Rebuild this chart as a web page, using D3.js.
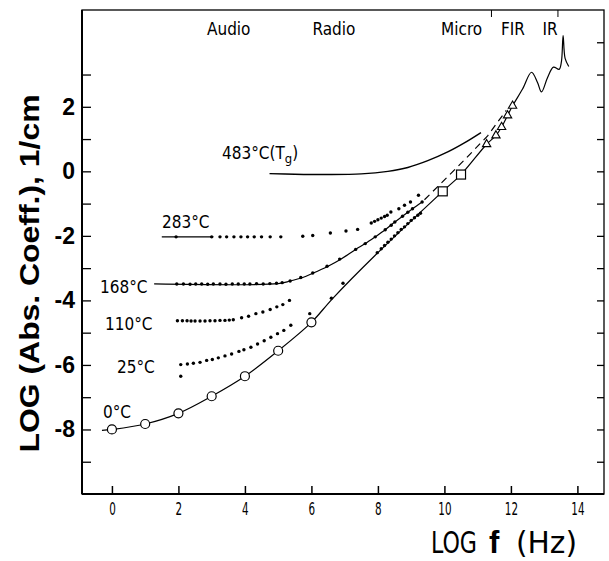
<!DOCTYPE html>
<html><head><meta charset="utf-8">
<script src="https://cdn.jsdelivr.net/npm/d3@7/dist/d3.min.js"></script>
<style>
body{margin:0;background:#fff;}
svg{display:block;}
.lab{font-family:"DejaVu Sans Condensed","DejaVu Sans",sans-serif;fill:#000;}
</style></head>
<body><svg id="c" width="609" height="561"></svg>
<script>
// ---------- data ----------
const xTickValues = [0,2,4,6,8,10,12,14];
const yTickValues = [2,0,-2,-4,-6,-8];
const yMinorLeft = [3,1,-1,-3,-5,-7,-9];
const yMinorRight = [4,3,1,-1,-3,-5,-7,-9];
const topTicks = [11.4,13.4];
const bandNames = ["Audio","Radio","Micro","FIR","IR"];
const bandX = [2.86,6.03,9.9,11.7,12.95];

// 0°C solid curve (through circles, squares, triangles, IR structure)
const line0X = [-0.3,0,1,2,3,4,5,6,6.63,7.92,9.95,10.5,11.27,11.55,11.72,11.9,12.05,12.35,12.62,12.8,12.92,13.1,13.28,13.45,13.52,13.57,13.63,13.74];
const line0Y = [-8.03,-8,-7.83,-7.5,-6.97,-6.35,-5.56,-4.68,-3.95,-2.6,-0.62,-0.1,0.84,1.11,1.37,1.73,2.03,2.55,3.07,2.75,2.46,2.9,3.23,3.16,3.4,4.21,3.5,3.25];
const circX = [0,1,2,3,4,5,6];
const circY = [-8,-7.83,-7.5,-6.97,-6.35,-5.56,-4.68];
const sqX = [9.95,10.5];
const sqY = [-0.62,-0.1];
const triX = [11.27,11.55,11.72,11.9,12.05];
const triY = [0.84,1.11,1.37,1.73,2.03];

// 483°C (Tg) curve
const tgX = [4.74,5.5,6.5,7.5,8.3,8.9,9.5,10.1,10.6,11.1];
const tgY = [-0.07,-0.09,-0.1,-0.08,0.0,0.12,0.33,0.6,0.88,1.2];

// dashed extrapolation
const dashX = [9.4,9.92,10.6,11.3,11.86];
const dashY = [-0.88,-0.35,0.35,1.1,1.89];

// 283°C
const l283X = [1.5,3.05];
const l283Y = [-2.03,-2.03];
const d283X = [1.93,3.0,3.25,3.45,3.67,3.88,4.08,4.28,4.5,4.76,5.08,5.74,6.04,6.57,7.04,7.39,7.8,7.9,8.0,8.1,8.2,8.28,8.39,8.63,8.8,8.98,9.22];
const d283Y = [-2.03,-2.03,-2.03,-2.03,-2.03,-2.03,-2.03,-2.03,-2.03,-2.03,-2.03,-2.01,-1.99,-1.91,-1.85,-1.8,-1.6,-1.55,-1.5,-1.45,-1.4,-1.36,-1.26,-1.16,-1.05,-0.95,-0.74];

// 168°C
const l168X = [1.27,5.0,5.36,5.74,6.04,6.5,6.87,7.33,7.62,7.92,8.22,8.51,8.74,9.04,9.33];
const l168Y = [-3.49,-3.48,-3.4,-3.29,-3.16,-2.94,-2.73,-2.42,-2.24,-2.03,-1.81,-1.57,-1.39,-1.16,-0.95];
const d168X = [1.95,2.15,2.35,2.52,2.7,2.88,3.05,3.25,3.43,3.62,3.8,3.98,4.15,4.35,4.55,4.75,4.95,5.12,5.36,5.68,6.04,6.47,6.85,7.33,7.62,7.92,8.22,8.4,8.51,8.74,8.9,9.04,9.33];
const d168Y = [-3.49,-3.49,-3.5,-3.49,-3.49,-3.5,-3.49,-3.49,-3.5,-3.49,-3.49,-3.49,-3.49,-3.48,-3.49,-3.48,-3.47,-3.45,-3.4,-3.29,-3.15,-2.94,-2.72,-2.42,-2.24,-2.03,-1.81,-1.67,-1.57,-1.39,-1.27,-1.16,-0.95];

// 110°C
const d110X = [1.97,2.12,2.26,2.38,2.5,2.65,2.8,2.95,3.1,3.25,3.4,3.53,3.65,3.9,4.11,4.33,4.54,4.76,4.96,5.14,5.34];
const d110Y = [-4.63,-4.63,-4.63,-4.64,-4.64,-4.64,-4.64,-4.63,-4.63,-4.62,-4.62,-4.61,-4.6,-4.54,-4.49,-4.41,-4.36,-4.28,-4.2,-4.13,-4.0];

// 25°C
const d25X = [2.07,2.07,2.27,2.45,2.65,2.85,3.02,3.2,3.4,3.6,3.82,3.97,4.18,4.38,4.58,4.78,4.98,5.17,5.38,5.95,6.6,6.95,7.98,8.1,8.2,8.3,8.4,8.5,8.6,8.7,8.8,8.9,9.0,9.1,9.2,9.28];
const d25Y = [-5.99,-6.35,-5.97,-5.95,-5.92,-5.86,-5.83,-5.78,-5.72,-5.66,-5.58,-5.53,-5.45,-5.35,-5.25,-5.14,-5.03,-4.93,-4.77,-4.41,-3.93,-3.47,-2.52,-2.4,-2.3,-2.2,-2.1,-2.0,-1.9,-1.8,-1.72,-1.62,-1.52,-1.44,-1.36,-1.3];

// temperature labels
const tempLabels = ["483°C(T","283°C","168°C","110°C","25°C","0°C"];

// ---------- chart ----------
const svg = d3.select("#c");
const L=82, R=604, T=10, B=494;
const x = d3.scaleLinear().domain([-0.9,14.8]).range([L,R]);
const y = d3.scaleLinear().domain([-10,5]).range([B,T]);
const zip = (a,b)=>a.map((v,i)=>[v,b[i]]);
const line = d3.line().x(d=>x(d[0])).y(d=>y(d[1]));

// frame
svg.append("rect").attr("x",L).attr("y",T).attr("width",R-L).attr("height",B-T)
  .attr("fill","none").attr("stroke","#000").attr("stroke-width",1.3);
svg.append("line").attr("x1",L).attr("x2",L).attr("y1",T).attr("y2",B).attr("stroke","#000").attr("stroke-width",2);
svg.append("line").attr("x1",L).attr("x2",R).attr("y1",B).attr("y2",B).attr("stroke","#000").attr("stroke-width",2);

// axes via d3 axis (inward ticks)
const xAx = svg.append("g").attr("transform",`translate(0,${B})`)
  .call(d3.axisBottom(x).tickValues(xTickValues).tickSize(-8).tickPadding(9).tickFormat(d3.format("d")));
xAx.select(".domain").remove();
xAx.selectAll("line").attr("stroke-width",1.5);
xAx.selectAll("text").attr("class","lab").attr("font-size",17).attr("fill","#000")
  .attr("textLength",d=>String(d).length*6.6).attr("lengthAdjust","spacingAndGlyphs");

const yAx = svg.append("g").attr("transform",`translate(${L},0)`)
  .call(d3.axisLeft(y).tickValues(yTickValues).tickSize(-9).tickPadding(7).tickFormat(d=>String(d).replace("−","-")));
yAx.select(".domain").remove();
yAx.selectAll("line").attr("stroke-width",1.3);
yAx.selectAll("text").attr("font-family","Liberation Sans, Arial, sans-serif").attr("font-weight","bold").attr("font-size",23).attr("fill","#000");

const yAxm = svg.append("g").attr("transform",`translate(${L},0)`)
  .call(d3.axisLeft(y).tickValues(yMinorLeft).tickSize(-9).tickFormat(""));
yAxm.select(".domain").remove();
yAxm.selectAll("line").attr("stroke-width",1.3);

const yAxR = svg.append("g").attr("transform",`translate(${R},0)`)
  .call(d3.axisRight(y).tickValues(yTickValues.concat(yMinorRight)).tickSize(-7).tickFormat(""));
yAxR.select(".domain").remove();
yAxR.selectAll("line").attr("stroke-width",1.3);

const xTop = svg.append("g").attr("transform",`translate(0,${T})`)
  .call(d3.axisTop(x).tickValues(topTicks).tickSize(-7).tickFormat(""));
xTop.select(".domain").remove();

// axis titles
svg.append("text").attr("transform",`translate(39,${(92+455)/2}) rotate(-90)`)
  .attr("text-anchor","middle").attr("font-family","Liberation Sans, Arial, sans-serif")
  .attr("font-weight","bold").attr("font-size",28).attr("textLength",358).attr("lengthAdjust","spacingAndGlyphs")
  .text("LOG (Abs. Coeff.), 1/cm");
svg.append("text").attr("class","lab").attr("x",431).attr("y",553).attr("font-size",30)
  .attr("textLength",46).attr("lengthAdjust","spacingAndGlyphs").text("LOG");
svg.append("text").attr("x",489).attr("y",553).attr("font-size",31).attr("font-weight","bold")
  .attr("font-family","Liberation Sans, Arial, sans-serif").text("f");
svg.append("text").attr("class","lab").attr("x",516).attr("y",553).attr("font-size",30)
  .attr("textLength",61).attr("lengthAdjust","spacingAndGlyphs").text("(Hz)");

// band labels
svg.selectAll(".band").data(bandNames).enter().append("text").attr("class","lab")
  .attr("x",(d,i)=>x(bandX[i])).attr("y",35).attr("font-size",17).text(d=>d);

// curves
const g = svg.append("g");
g.append("path").attr("d",line.curve(d3.curveCatmullRom)(zip(line0X,line0Y))).attr("fill","none").attr("stroke","#000").attr("stroke-width",1.2);
g.append("path").attr("d",line.curve(d3.curveCatmullRom)(zip(tgX,tgY))).attr("fill","none").attr("stroke","#000").attr("stroke-width",1.4);
g.append("path").attr("d",line.curve(d3.curveLinear)(zip(dashX,dashY))).attr("fill","none").attr("stroke","#000").attr("stroke-width",1.2).attr("stroke-dasharray","7,5");
g.append("path").attr("d",line.curve(d3.curveLinear)(zip(l283X,l283Y))).attr("fill","none").attr("stroke","#000").attr("stroke-width",1.2);
g.append("path").attr("d",line.curve(d3.curveCatmullRom)(zip(l168X,l168Y))).attr("fill","none").attr("stroke","#000").attr("stroke-width",1.2);

function dots(xs,ys){
  g.selectAll(null).data(zip(xs,ys)).enter().append("circle")
    .attr("cx",d=>x(d[0])).attr("cy",d=>y(d[1])).attr("r",1.7).attr("fill","#000");
}
dots(d283X,d283Y); dots(d168X,d168Y); dots(d110X,d110Y); dots(d25X,d25Y);

// markers
g.selectAll(".circ").data(zip(circX,circY)).enter().append("circle")
  .attr("cx",d=>x(d[0])).attr("cy",d=>y(d[1])).attr("r",4.5).attr("fill","#fff").attr("stroke","#000").attr("stroke-width",1.2);
g.selectAll(".sq").data(zip(sqX,sqY)).enter().append("rect")
  .attr("x",d=>x(d[0])-4.5).attr("y",d=>y(d[1])-4.5).attr("width",9).attr("height",9).attr("fill","#fff").attr("stroke","#000").attr("stroke-width",1.2);
const tri = d3.symbol().type(d3.symbolTriangle).size(30);
g.selectAll(".tri").data(zip(triX,triY)).enter().append("path")
  .attr("transform",d=>`translate(${x(d[0])},${y(d[1])})`).attr("d",tri).attr("fill","#fff").attr("stroke","#000").attr("stroke-width",1.1);

// temperature labels
const tlx = [222,162,100,105,117,103];
const tly = [159,228,293,330,373,418];
tempLabels.forEach((t,i)=>{
  const tx = svg.append("text").attr("class","lab").attr("x",tlx[i]).attr("y",tly[i]).attr("font-size",17);
  tx.append("tspan").text(t);
  if(i===0){ tx.append("tspan").attr("dy",4).attr("font-size",13).text("g"); tx.append("tspan").attr("dy",-4).text(")"); }
});
</script></body></html>
